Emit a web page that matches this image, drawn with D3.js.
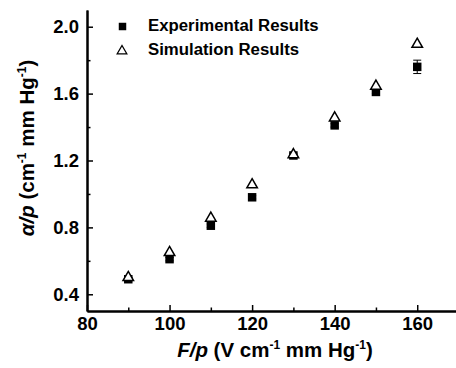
<!DOCTYPE html>
<html><head><meta charset="utf-8">
<script src="https://cdn.jsdelivr.net/npm/d3@7"></script>
<style>body{margin:0;background:#fff}svg{display:block}text{font-family:"Liberation Sans",Arial,sans-serif;fill:#000}</style>
</head><body><svg id="c" width="456" height="368"></svg>
<script>
const fp = [90, 100, 110, 120, 130, 140, 150, 160];
const experimental = [0.49, 0.61, 0.81, 0.98, 1.23, 1.41, 1.61, 1.76];
const expError = [0.01, 0.01, 0.01, 0.01, 0.01, 0.01, 0.01, 0.04];
const simulation = [0.50, 0.65, 0.855, 1.055, 1.235, 1.455, 1.645, 1.895];
const xTicks = [80, 100, 120, 140, 160];
const xMinor = [90, 110, 130, 150, 170];
const yTicks = [0.4, 0.8, 1.2, 1.6, 2.0];
const yMinor = [0.6, 1.0, 1.4, 1.8];
const legendLabels = ["Experimental Results", "Simulation Results"];

const svg = d3.select("#c");
const L = 87, R = 458.5, T = 10, B = 311;
const x = d3.scaleLinear().domain([80, 170]).range([L, R]);
const y = d3.scaleLinear().domain([0.3, 2.1]).range([B, T]);

// axes
const gx = svg.append("g").attr("transform", `translate(0,${B})`);
gx.call(d3.axisBottom(x).tickValues(xTicks).tickSizeInner(-6).tickSizeOuter(0).tickPadding(6).tickFormat(d3.format("d")));
gx.append("g").call(d3.axisBottom(x).tickValues(xMinor).tickSizeInner(-3.5).tickSizeOuter(0).tickFormat(""));
const gy = svg.append("g").attr("transform", `translate(${L},0)`);
gy.call(d3.axisLeft(y).tickValues(yTicks).tickSizeInner(-6).tickSizeOuter(0).tickPadding(8).tickFormat(d3.format(".1f")));
gy.append("g").call(d3.axisLeft(y).tickValues(yMinor).tickSizeInner(-3.5).tickSizeOuter(0).tickFormat(""));
svg.selectAll(".domain").attr("stroke", "#000").attr("stroke-width", 2);
svg.selectAll(".tick line").attr("stroke", "#000").attr("stroke-width", 1.5);
svg.selectAll(".tick text").attr("font-size", 18.5).attr("font-weight", "bold").attr("font-family", "Liberation Sans, Arial, sans-serif").attr("fill", "#000");

// error bars
const eg = svg.append("g");
fp.forEach((f, i) => {
  const cx = x(f), y1 = y(experimental[i] - expError[i]), y2 = y(experimental[i] + expError[i]);
  eg.append("line").attr("x1", cx).attr("x2", cx).attr("y1", y1).attr("y2", y2).attr("stroke", "#000").attr("stroke-width", 1);
  eg.append("line").attr("x1", cx - 4).attr("x2", cx + 4).attr("y1", y1).attr("y2", y1).attr("stroke", "#000").attr("stroke-width", 1);
  eg.append("line").attr("x1", cx - 4).attr("x2", cx + 4).attr("y1", y2).attr("y2", y2).attr("stroke", "#000").attr("stroke-width", 1);
});

const sq = d3.symbol().type(d3.symbolSquare).size(72);
const tri = d3.symbol().type(d3.symbolTriangle).size(48);

svg.append("g").selectAll("path").data(fp).join("path")
  .attr("d", sq).attr("transform", (d, i) => `translate(${x(d)},${y(experimental[i])})`)
  .attr("fill", "#000");
svg.append("g").selectAll("path").data(fp).join("path")
  .attr("d", tri).attr("transform", (d, i) => `translate(${x(d)},${y(simulation[i])})`)
  .attr("fill", "#fff").attr("stroke", "#000").attr("stroke-width", 1.5);

// legend
const lg = svg.append("g");
lg.append("path").attr("d", d3.symbol().type(d3.symbolSquare).size(56)).attr("transform", "translate(122.5,26.5)").attr("fill", "#000");
lg.append("path").attr("d", d3.symbol().type(d3.symbolTriangle).size(40)).attr("transform", "translate(122,51)").attr("fill", "#fff").attr("stroke", "#000").attr("stroke-width", 1.3);
legendLabels.forEach((t, i) => {
  lg.append("text").attr("x", 148).attr("y", 31 + i * 24).attr("font-size", 16.8).attr("font-weight", "bold").text(t);
});

// axis titles
const xt = svg.append("text").attr("x", 275).attr("y", 357).attr("text-anchor", "middle").attr("font-size", 20.5).attr("font-weight", "bold");
xt.append("tspan").attr("font-style", "italic").text("F/p");
xt.append("tspan").text(" (V cm");
xt.append("tspan").attr("font-size", 12).attr("dy", -8).text("-1");
xt.append("tspan").attr("dy", 8).text(" mm Hg");
xt.append("tspan").attr("font-size", 12).attr("dy", -8).text("-1");
xt.append("tspan").attr("dy", 8).text(")");

const yt = svg.append("text").attr("transform", "translate(34,148) rotate(-90)").attr("text-anchor", "middle").attr("font-size", 20.5).attr("font-weight", "bold");
yt.append("tspan").attr("font-style", "italic").text("α/p");
yt.append("tspan").text(" (cm");
yt.append("tspan").attr("font-size", 12).attr("dy", -8).text("-1");
yt.append("tspan").attr("dy", 8).text(" mm Hg");
yt.append("tspan").attr("font-size", 12).attr("dy", -8).text("-1");
yt.append("tspan").attr("dy", 8).text(")");
</script></body></html>
